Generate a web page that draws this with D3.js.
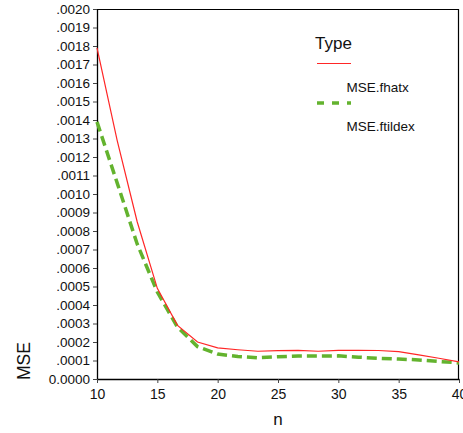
<!DOCTYPE html>
<html>
<head>
<meta charset="utf-8">
<script src="https://cdn.jsdelivr.net/npm/d3@7/dist/d3.min.js"></script>
<style>
  html, body { margin: 0; padding: 0; background: #fff; }
  svg { display: block; font-family: "Liberation Sans", Arial, sans-serif; }
</style>
</head>
<body>
<svg id="chart" width="463" height="433"></svg>
<script>
// ---- data ----
const nValues = [10, 11.67, 13.33, 15, 16.67, 18.33, 20, 21.67, 23.33, 25, 26.67, 28.33, 30, 31.67, 33.33, 35, 36.67, 38.33, 40];
const mseFhatx = [0.00179, 0.00129, 0.00085, 0.00049, 0.00029, 0.000200, 0.000168, 0.000158, 0.000150, 0.000153, 0.000155, 0.000150, 0.000155, 0.000155, 0.000154, 0.000148, 0.000130, 0.000112, 0.000093];
const mseFtildex = [0.00139, 0.00106, 0.00073, 0.00047, 0.00028, 0.000175, 0.000135, 0.000122, 0.000115, 0.000120, 0.000124, 0.000124, 0.000125, 0.000118, 0.000112, 0.000108, 0.000103, 0.000095, 0.000087];
const seriesNames = ["MSE.fhatx", "MSE.ftildex"];
const xTicks = [10, 15, 20, 25, 30, 35, 40];
const yTicks = [0, 0.0001, 0.0002, 0.0003, 0.0004, 0.0005, 0.0006, 0.0007, 0.0008, 0.0009, 0.0010, 0.0011, 0.0012, 0.0013, 0.0014, 0.0015, 0.0016, 0.0017, 0.0018, 0.0019, 0.0020];

(function () {
const svg = d3.select("#chart");
const pL = 97, pR = 459, pT = 9, pB = 379;

const x = d3.scaleLinear().domain([10, 40]).range([pL, pR]);
const y = d3.scaleLinear().domain([0, 0.002]).range([pB, pT]);

const fmtY = v => v === 0 ? "0.0000" : d3.format(".4f")(v).replace(/^0/, "");

// frame top/right
svg.append("line").attr("x1", pL).attr("x2", pR).attr("y1", pT + 0.5).attr("y2", pT + 0.5)
  .attr("stroke", "#000").attr("stroke-width", 1.2);
svg.append("line").attr("x1", pR - 0.5).attr("x2", pR - 0.5).attr("y1", pT).attr("y2", pB)
  .attr("stroke", "#000").attr("stroke-width", 1.2);

// y axis
const yAxis = svg.append("g").attr("transform", `translate(${pL},0)`)
  .call(d3.axisLeft(y).tickValues(yTicks).tickFormat(fmtY).tickSize(4).tickPadding(3).tickSizeOuter(0));
yAxis.select(".domain").attr("stroke", "#000").attr("stroke-width", 1.3);
yAxis.selectAll(".tick line").attr("stroke", "#444");
yAxis.selectAll(".tick text").attr("font-size", "13.5px").attr("fill", "#111")
  .attr("font-family", "'Liberation Sans', Arial, sans-serif");

// x axis
const xAxis = svg.append("g").attr("transform", `translate(0,${pB})`)
  .call(d3.axisBottom(x).tickValues(xTicks).tickFormat(d3.format("d")).tickSize(4).tickPadding(6).tickSizeOuter(0));
xAxis.select(".domain").attr("stroke", "#000").attr("stroke-width", 1.3);
xAxis.selectAll(".tick line").attr("stroke", "#444");
xAxis.selectAll(".tick text").attr("font-size", "14px").attr("fill", "#111")
  .attr("font-family", "'Liberation Sans', Arial, sans-serif");

// axis titles
svg.append("text").attr("x", (pL + pR) / 2).attr("y", 425).attr("text-anchor", "middle")
  .attr("font-size", "17px").attr("fill", "#111").text("n");
svg.append("text").attr("transform", "translate(30,361) rotate(-90)").attr("text-anchor", "middle")
  .attr("font-size", "17.5px").attr("fill", "#111").text("MSE");

// lines
const line = d3.line().x(d => x(d[0])).y(d => y(d[1]));
const redData = nValues.map((n, i) => [n, mseFhatx[i]]);
const greenData = nValues.map((n, i) => [n, mseFtildex[i]]);

svg.append("path").datum(greenData).attr("d", line).attr("fill", "none")
  .attr("stroke", "#63b32e").attr("stroke-width", 3.5).attr("stroke-dasharray", "10,5");
svg.append("path").datum(redData).attr("d", line).attr("fill", "none")
  .attr("stroke", "#ff2626").attr("stroke-width", 1.2);

// legend
const lg = svg.append("g");
lg.append("text").attr("x", 315).attr("y", 49).attr("font-size", "17px").attr("fill", "#111").text("Type");
lg.append("line").attr("x1", 317).attr("x2", 351).attr("y1", 63.5).attr("y2", 63.5)
  .attr("stroke", "#ff2626").attr("stroke-width", 1.2);
lg.append("text").attr("x", 346.5).attr("y", 92).attr("font-size", "13.5px").attr("fill", "#111").text(seriesNames[0]);
lg.append("line").attr("x1", 317).attr("x2", 351).attr("y1", 103).attr("y2", 103)
  .attr("stroke", "#63b32e").attr("stroke-width", 3.5).attr("stroke-dasharray", "7,8");
lg.append("text").attr("x", 346.5).attr("y", 131).attr("font-size", "13.5px").attr("fill", "#111").text(seriesNames[1]);
})();
</script>
</body>
</html>
